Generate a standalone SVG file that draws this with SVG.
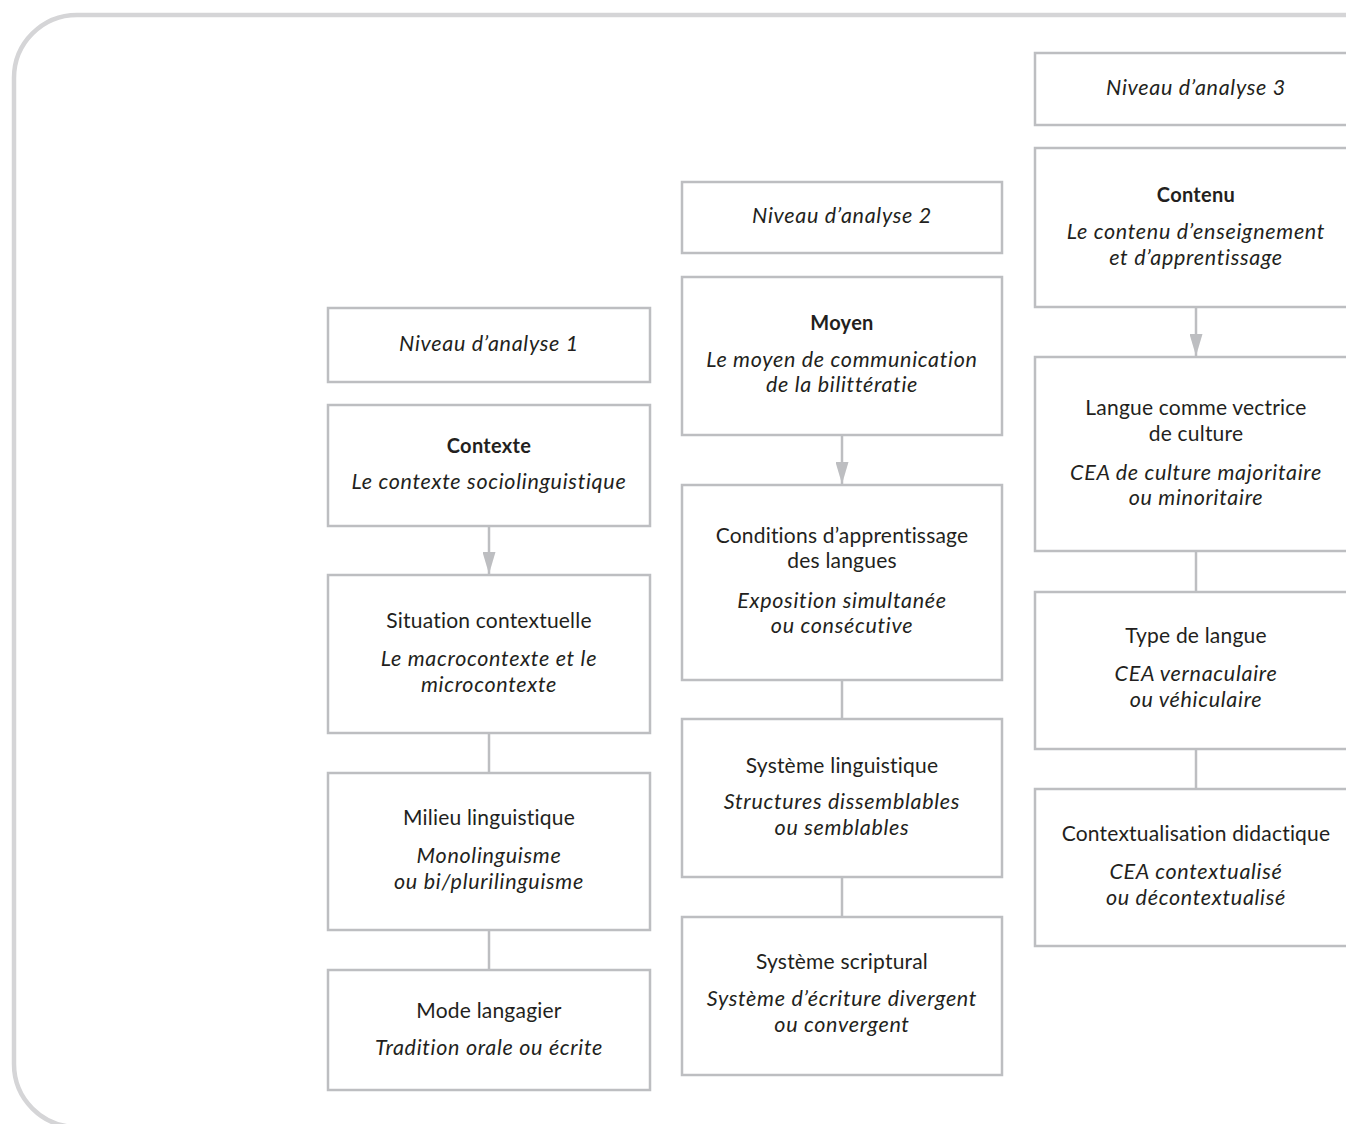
<svg xmlns="http://www.w3.org/2000/svg" width="1346" height="1124" viewBox="0 0 1346 1124">
<style>
  .frame { fill: none; stroke: #d5d5d7; stroke-width: 4.5; }
  .box { fill: #ffffff; stroke: #bdbec1; stroke-width: 2.5; }
  .conn { stroke: #bdbec1; stroke-width: 2.5; fill: none; }
  text { font-family: "Lato", "Open Sans", sans-serif; font-size: 21px; letter-spacing: 0.2px; fill: #231f20; text-anchor: middle; }
  .it { font-style: italic; font-size: 21.5px; letter-spacing: 0.7px; }
  .b { font-weight: bold; font-size: 20px; letter-spacing: 0.3px; }
</style>
<defs>
  <marker id="arr" viewBox="0 0 22 13" refX="22" refY="6.5" markerWidth="22" markerHeight="13" markerUnits="userSpaceOnUse" orient="auto">
    <path d="M0,0 L22,6.5 L0,13 Z" fill="#bdbec1"/>
  </marker>
</defs>
<rect x="14" y="15" width="1420" height="1112" rx="63" ry="63" class="frame"/>

<g id="connectors">
  <line x1="489" y1="526" x2="489" y2="574" class="conn" marker-end="url(#arr)"/>
  <line x1="489" y1="733" x2="489" y2="773" class="conn"/>
  <line x1="489" y1="930" x2="489" y2="970" class="conn"/>
  <line x1="842" y1="435" x2="842" y2="484" class="conn" marker-end="url(#arr)"/>
  <line x1="842" y1="680" x2="842" y2="719" class="conn"/>
  <line x1="842" y1="877" x2="842" y2="917" class="conn"/>
  <line x1="1196" y1="307" x2="1196" y2="356" class="conn" marker-end="url(#arr)"/>
  <line x1="1196" y1="551" x2="1196" y2="592" class="conn"/>
  <line x1="1196" y1="749" x2="1196" y2="789" class="conn"/>
</g>

<!-- Column 1 -->
<g id="niveau1">
  <rect x="328" y="308" width="322" height="74" class="box"/>
  <text x="489" y="351" class="it">Niveau d’analyse 1</text>
</g>
<g id="contexte">
  <rect x="328" y="405" width="322" height="121" class="box"/>
  <text x="489" y="453" class="b">Contexte</text>
  <text x="489" y="489" class="it">Le contexte sociolinguistique</text>
</g>
<g id="situation">
  <rect x="328" y="575" width="322" height="158" class="box"/>
  <text x="489" y="628">Situation contextuelle</text>
  <text x="489" y="666" class="it">Le macrocontexte et le</text>
  <text x="489" y="692" class="it">microcontexte</text>
</g>
<g id="milieu">
  <rect x="328" y="773" width="322" height="157" class="box"/>
  <text x="489" y="825">Milieu linguistique</text>
  <text x="489" y="863" class="it">Monolinguisme</text>
  <text x="489" y="889" class="it">ou bi/plurilinguisme</text>
</g>
<g id="mode">
  <rect x="328" y="970" width="322" height="120" class="box"/>
  <text x="489" y="1018">Mode langagier</text>
  <text x="489" y="1055" class="it">Tradition orale ou écrite</text>
</g>

<!-- Column 2 -->
<g id="niveau2">
  <rect x="682" y="182" width="320" height="71" class="box"/>
  <text x="842" y="223" class="it">Niveau d’analyse 2</text>
</g>
<g id="moyen">
  <rect x="682" y="277" width="320" height="158" class="box"/>
  <text x="842" y="330" class="b">Moyen</text>
  <text x="842" y="367" class="it">Le moyen de communication</text>
  <text x="842" y="392" class="it">de la bilittératie</text>
</g>
<g id="conditions">
  <rect x="682" y="485" width="320" height="195" class="box"/>
  <text x="842" y="543">Conditions d’apprentissage</text>
  <text x="842" y="568">des langues</text>
  <text x="842" y="608" class="it">Exposition simultanée</text>
  <text x="842" y="633" class="it">ou consécutive</text>
</g>
<g id="systeme-linguistique">
  <rect x="682" y="719" width="320" height="158" class="box"/>
  <text x="842" y="773">Système linguistique</text>
  <text x="842" y="809" class="it">Structures dissemblables</text>
  <text x="842" y="835" class="it">ou semblables</text>
</g>
<g id="systeme-scriptural">
  <rect x="682" y="917" width="320" height="158" class="box"/>
  <text x="842" y="969">Système scriptural</text>
  <text x="842" y="1006" class="it">Système d’écriture divergent</text>
  <text x="842" y="1032" class="it">ou convergent</text>
</g>

<!-- Column 3 -->
<g id="niveau3">
  <rect x="1035" y="53" width="322" height="72" class="box"/>
  <text x="1196" y="95" class="it">Niveau d’analyse 3</text>
</g>
<g id="contenu">
  <rect x="1035" y="148" width="322" height="159" class="box"/>
  <text x="1196" y="202" class="b">Contenu</text>
  <text x="1196" y="239" class="it">Le contenu d’enseignement</text>
  <text x="1196" y="265" class="it">et d’apprentissage</text>
</g>
<g id="langue-culture">
  <rect x="1035" y="357" width="322" height="194" class="box"/>
  <text x="1196" y="415">Langue comme vectrice</text>
  <text x="1196" y="441">de culture</text>
  <text x="1196" y="480" class="it">CEA de culture majoritaire</text>
  <text x="1196" y="505" class="it">ou minoritaire</text>
</g>
<g id="type-langue">
  <rect x="1035" y="592" width="322" height="157" class="box"/>
  <text x="1196" y="643">Type de langue</text>
  <text x="1196" y="681" class="it">CEA vernaculaire</text>
  <text x="1196" y="707" class="it">ou véhiculaire</text>
</g>
<g id="contextualisation">
  <rect x="1035" y="789" width="322" height="157" class="box"/>
  <text x="1196" y="841">Contextualisation didactique</text>
  <text x="1196" y="879" class="it">CEA contextualisé</text>
  <text x="1196" y="905" class="it">ou décontextualisé</text>
</g>
</svg>
